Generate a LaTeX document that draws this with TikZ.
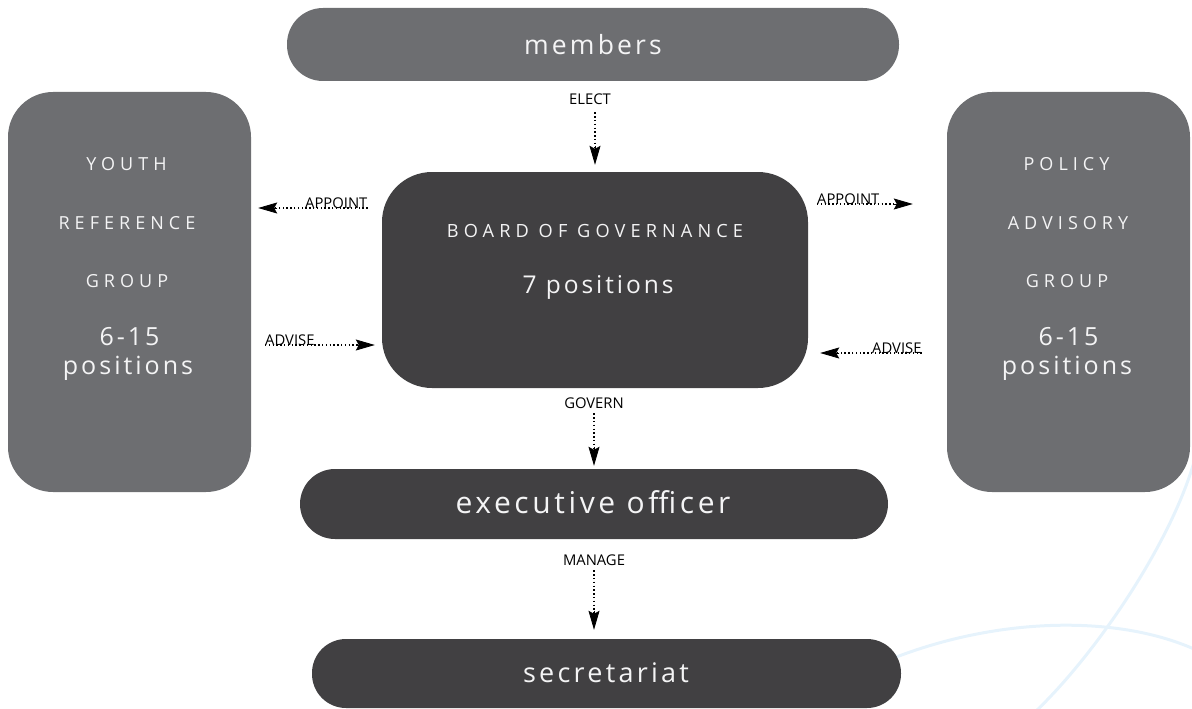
\documentclass[tikz,border=0pt]{standalone}
\usepackage{fontspec}
\setmainfont{Open Sans}
\newfontfamily\boxfont[LetterSpace=12]{Open Sans}
\newfontfamily\capfont[LetterSpace=28]{Open Sans}
\usetikzlibrary{arrows.meta,calc}
\definecolor{midgrey}{HTML}{6D6E71}
\definecolor{darkgrey}{HTML}{414042}
\definecolor{paleblue}{HTML}{E6F3FC}
\definecolor{boxwhite}{HTML}{F4F4F5}
\begin{document}
\begin{tikzpicture}[x=1pt,y=-1pt,
  box/.style={fill=#1, draw=none, inner sep=0},
  btext/.style={text=boxwhite, inner sep=0, anchor=base},
  lbl/.style={font=\fontsize{14.8}{15}\selectfont, inner sep=0, text=black},
  dots/.style={line width=1.4pt, dash pattern=on 1.4pt off 2.4pt},
  tipend/.style={solid, line width=0.8pt, -{Stealth[length=19pt,width=11pt,inset=3pt]}},
  swoosh/.style={draw=paleblue, line width=3pt}
]
\useasboundingbox (0,0) rectangle (1192,709);
% faint background curves
\draw[swoosh] (1194,462) .. controls (1170,545) and (1095,655) .. (1035,712);
\draw[swoosh] (870,668) .. controls (980,618) and (1110,612) .. (1194,649);

% boxes
\node[box=midgrey, minimum width=612pt, minimum height=73pt, rounded corners=36pt] (members) at (593,44.5) {};
\node[box=midgrey, minimum width=243pt, minimum height=400pt, rounded corners=45pt] (youth) at (129.5,292) {};
\node[box=midgrey, minimum width=243pt, minimum height=400pt, rounded corners=45pt] (policy) at (1068.5,292) {};
\node[box=darkgrey, minimum width=426pt, minimum height=216pt, rounded corners=50pt] (board) at (595,280) {};
\node[box=darkgrey, minimum width=588pt, minimum height=70pt, rounded corners=35pt] (exec) at (594,504) {};
\node[box=darkgrey, minimum width=589pt, minimum height=69pt, rounded corners=34pt] (sec) at (606.5,673.5) {};

% box texts
\node[btext, font=\boxfont\fontsize{26.5}{27}\selectfont] (tmembers) at (593,55) {members};
\node[btext, font=\capfont\fontsize{18}{18}\selectfont] (ty1) at (126.5,170) {YOUTH};
\node[btext, font=\capfont\fontsize{18}{18}\selectfont] (ty2) at (127,229) {REFERENCE};
\node[btext, font=\capfont\fontsize{18}{18}\selectfont] (ty3) at (127,287) {GROUP};
\node[btext, font=\boxfont\fontsize{25}{25}\selectfont] (ty4) at (129.5,345) {6-15};
\node[btext, font=\boxfont\fontsize{25}{25}\selectfont] (ty5) at (128,374) {positions};
\node[btext, font=\capfont\fontsize{18}{18}\selectfont] (tp1) at (1066.5,170) {POLICY};
\node[btext, font=\capfont\fontsize{18}{18}\selectfont] (tp2) at (1068,229) {ADVISORY};
\node[btext, font=\capfont\fontsize{18}{18}\selectfont] (tp3) at (1067,287) {GROUP};
\node[btext, font=\boxfont\fontsize{25}{25}\selectfont] (tp4) at (1068.5,345) {6-15};
\node[btext, font=\boxfont\fontsize{25}{25}\selectfont] (tp5) at (1067,374) {positions};
\node[btext, font=\capfont\fontsize{18.2}{18}\selectfont] (tb1) at (595,237) {BOARD OF GOVERNANCE};
\node[btext, font=\boxfont\fontsize{24.5}{25}\selectfont] (tb2) at (598,293) {7 positions};
\node[btext, font=\boxfont\fontsize{30}{30}\selectfont] (texec) at (593,513) {executive officer};
\node[btext, font=\boxfont\fontsize{27}{27}\selectfont] (tsec) at (606,682) {secretariat};

% connector labels
\node[lbl, anchor=base] (elect) at (590,104) {ELECT};
\node[lbl, anchor=base] (govern) at (594,408) {GOVERN};
\node[lbl, anchor=base] (manage) at (594,565) {MANAGE};
\node[lbl, anchor=base west] (appL) at (305,208) {APPOINT};
\node[lbl, anchor=base west] (appR) at (817,204) {APPOINT};
\node[lbl, anchor=base west] (advL) at (265,345) {ADVISE};
\node[lbl, anchor=base west] (advR) at (872,353) {ADVISE};

% connector end points
\coordinate (s1) at ([yshift=-8pt]elect.south -| board.north);
\coordinate (e1) at ([yshift=7pt]board.north);
\coordinate (s2) at ([yshift=-5pt]govern.south);
\coordinate (e2) at ([yshift=3pt]govern.south |- exec.north);
\coordinate (s3) at ([yshift=-5pt]manage.south);
\coordinate (e3) at ([yshift=9pt]manage.south |- sec.north);
\coordinate (s4) at (appL.base east);
\coordinate (e4) at ([xshift=7pt]appL.base east -| youth.east);
\coordinate (s5) at (appR.base west);
\coordinate (e5) at ([xshift=-34pt]appR.base west -| policy.west);
\coordinate (s6) at (advL.base west);
\coordinate (e6) at ([xshift=-7pt]advL.base west -| board.west);
\coordinate (s7) at (advR.base east);
\coordinate (e7) at ([xshift=12pt]advR.base east -| board.east);

% connectors: dotted shaft and solid head
\foreach \i in {1,...,7}{
  \draw[dots, shorten >=8pt] (s\i) -- (e\i);
  \draw[tipend] ($(e\i)!19pt!(s\i)$) -- (e\i);
}
\end{tikzpicture}
\end{document}
